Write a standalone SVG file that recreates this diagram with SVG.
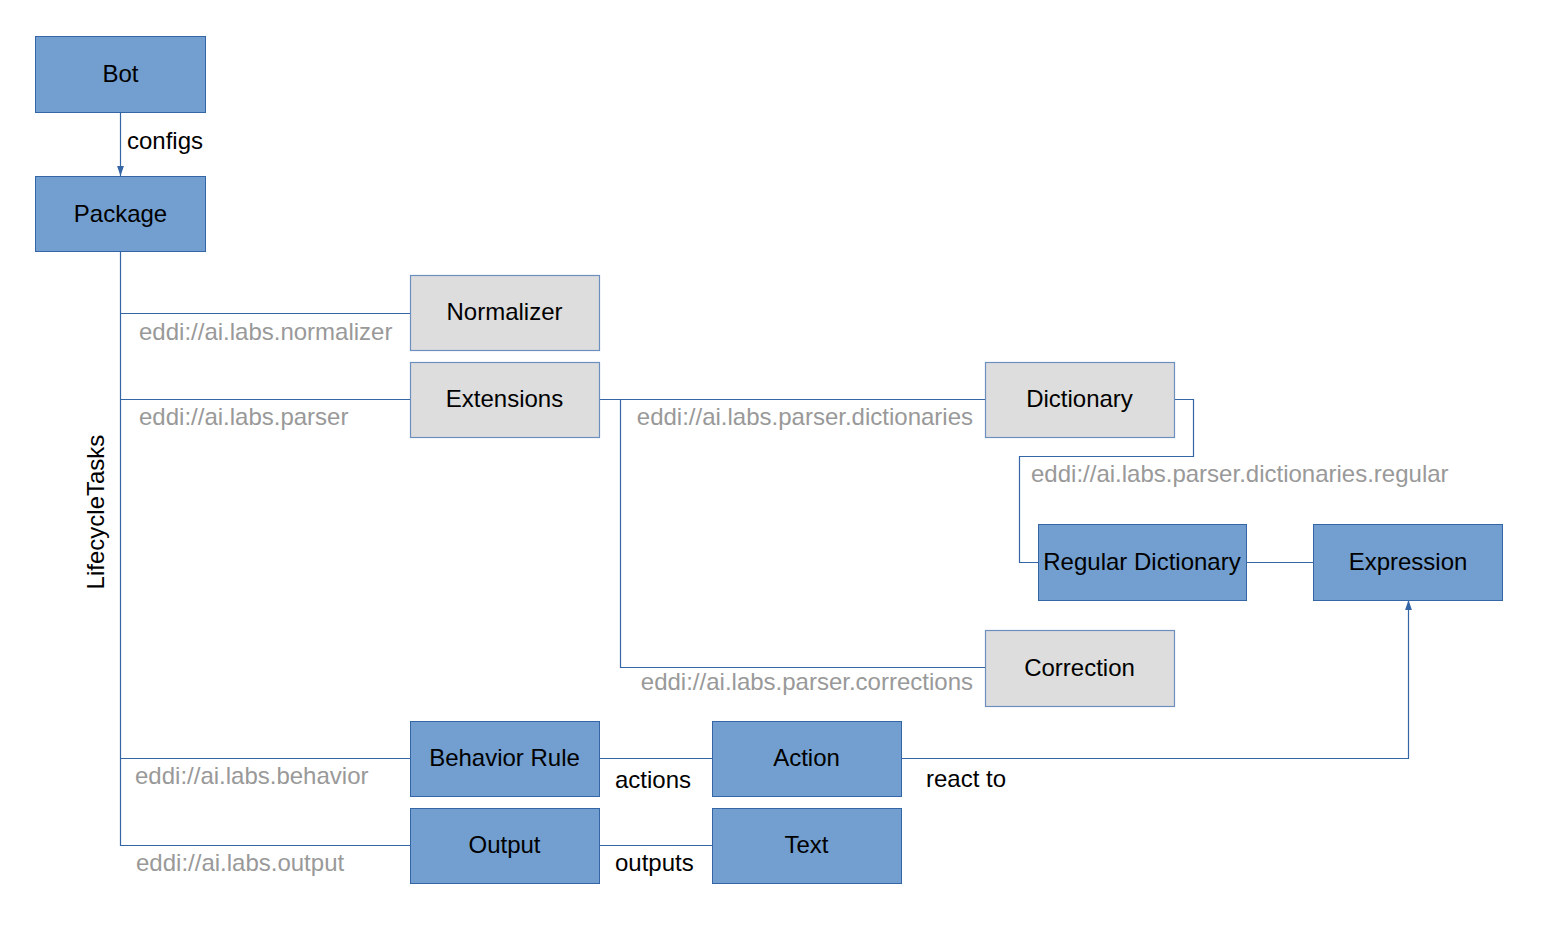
<svg xmlns="http://www.w3.org/2000/svg" width="1557" height="927" viewBox="0 0 1557 927">
<style>
.blue{fill:#729fcf;stroke:#3465a4;stroke-width:1}
.gray{fill:#dddddd;stroke:#6d8fc0;stroke-width:1.2}
.t{font-family:"Liberation Sans",Arial,sans-serif;font-size:24px;fill:#000;text-anchor:middle}
.lbl{font-family:"Liberation Sans",Arial,sans-serif;font-size:24px;fill:#999999}
.blk{font-family:"Liberation Sans",Arial,sans-serif;font-size:24px;fill:#000}
.c{fill:none;stroke:#3465a4;stroke-width:1.2}
</style>
<defs>
<marker id="arr" viewBox="0 0 10 10" refX="10" refY="5" markerWidth="10" markerHeight="10" markerUnits="userSpaceOnUse" orient="auto">
<path d="M0,1.6 L10,5 L0,8.4 z" fill="#3465a4"/>
</marker>
</defs>
<rect width="1557" height="927" fill="#ffffff"/>
<g id="connectors">
<path class="c" d="M120.5,112 V176" marker-end="url(#arr)"/>
<path class="c" d="M120.5,251 V845.5 H410"/>
<path class="c" d="M120.5,313.5 H410"/>
<path class="c" d="M120.5,399.5 H410"/>
<path class="c" d="M120.5,758.5 H410"/>
<path class="c" d="M599,399.5 H985"/>
<path class="c" d="M620.5,399.5 V667.5 H985"/>
<path class="c" d="M1174,399.5 H1193.5 V456.5 H1019.5 V562.5 H1038"/>
<path class="c" d="M1246,562.5 H1313"/>
<path class="c" d="M599,758.5 H712"/>
<path class="c" d="M599,845.5 H712"/>
<path class="c" d="M901,758.5 H1408.5 V600" marker-end="url(#arr)"/>
<text class="blk" x="127" y="149">configs</text>
<text class="blk" x="96" y="512" text-anchor="middle" transform="rotate(-90 96 512)" dy="8">LifecycleTasks</text>
<text class="lbl" x="139" y="340">eddi://ai.labs.normalizer</text>
<text class="lbl" x="139" y="425">eddi://ai.labs.parser</text>
<text class="lbl" x="135" y="784">eddi://ai.labs.behavior</text>
<text class="lbl" x="136" y="871">eddi://ai.labs.output</text>
<text class="lbl" x="973" y="425" text-anchor="end">eddi://ai.labs.parser.dictionaries</text>
<text class="lbl" x="973" y="690" text-anchor="end">eddi://ai.labs.parser.corrections</text>
<text class="lbl" x="1031" y="482">eddi://ai.labs.parser.dictionaries.regular</text>
<text class="blk" x="615" y="788">actions</text>
<text class="blk" x="926" y="787">react to</text>
<text class="blk" x="615" y="871">outputs</text>
</g>
<g id="bot"><rect class="blue" x="35.5" y="36.5" width="170" height="76"/><text class="t" x="120.5" y="82">Bot</text></g>
<g id="package"><rect class="blue" x="35.5" y="176.5" width="170" height="75"/><text class="t" x="120.5" y="222">Package</text></g>
<g id="normalizer"><rect class="gray" x="410.5" y="275.5" width="189" height="75"/><text class="t" x="504.5" y="320">Normalizer</text></g>
<g id="extensions"><rect class="gray" x="410.5" y="362.5" width="189" height="75"/><text class="t" x="504.5" y="407">Extensions</text></g>
<g id="dictionary"><rect class="gray" x="985.5" y="362.5" width="189" height="75"/><text class="t" x="1079.5" y="407">Dictionary</text></g>
<g id="regular-dictionary"><rect class="blue" x="1038.5" y="524.5" width="208" height="76"/><text class="t" x="1142" y="570">Regular Dictionary</text></g>
<g id="expression"><rect class="blue" x="1313.5" y="524.5" width="189" height="76"/><text class="t" x="1408" y="570">Expression</text></g>
<g id="correction"><rect class="gray" x="985.5" y="630.5" width="189" height="76"/><text class="t" x="1079.5" y="676">Correction</text></g>
<g id="behavior-rule"><rect class="blue" x="410.5" y="721.5" width="189" height="75"/><text class="t" x="504.5" y="766">Behavior Rule</text></g>
<g id="action"><rect class="blue" x="712.5" y="721.5" width="189" height="75"/><text class="t" x="806.5" y="766">Action</text></g>
<g id="output"><rect class="blue" x="410.5" y="808.5" width="189" height="75"/><text class="t" x="504.5" y="853">Output</text></g>
<g id="text"><rect class="blue" x="712.5" y="808.5" width="189" height="75"/><text class="t" x="806.5" y="853">Text</text></g>
</svg>
